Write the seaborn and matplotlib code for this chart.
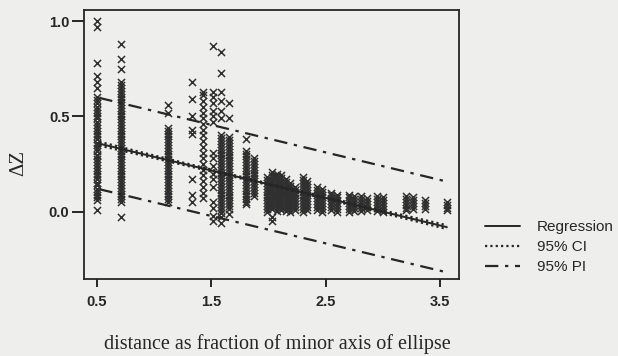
import matplotlib
matplotlib.use("Agg")
import matplotlib.pyplot as plt
import seaborn as sns
import pandas as pd
from matplotlib.lines import Line2D

# ---- observed change in Z, grouped by distance (fraction of minor axis) ----
x_050, y_050 = 0.50, [1.00, 0.97, 0.78, 0.71, 0.68, 0.65, 0.60, 0.585, 0.57, 0.55, 0.535, 0.52,
                      0.50, 0.49, 0.47, 0.455, 0.44, 0.425, 0.41, 0.395, 0.38, 0.36, 0.35, 0.335,
                      0.32, 0.30, 0.29, 0.275, 0.26, 0.245, 0.23, 0.215, 0.20, 0.185, 0.17, 0.15,
                      0.14, 0.12, 0.105, 0.09, 0.075, 0.06, 0.01]
x_071, y_071 = 0.71, [0.88, 0.80, 0.75, 0.68, 0.665, 0.65, 0.635, 0.62, 0.60, 0.59, 0.575, 0.56,
                      0.545, 0.53, 0.515, 0.50, 0.485, 0.47, 0.455, 0.44, 0.425, 0.41, 0.395,
                      0.38, 0.365, 0.35, 0.335, 0.32, 0.305, 0.29, 0.275, 0.26, 0.245, 0.23,
                      0.215, 0.20, 0.185, 0.17, 0.155, 0.14, 0.125, 0.11, 0.095, 0.08, 0.065,
                      0.05, -0.03]
x_112, y_112 = 1.12, [0.56, 0.52, 0.44, 0.425, 0.41, 0.395, 0.38, 0.365, 0.35, 0.335, 0.32, 0.305,
                      0.29, 0.275, 0.26, 0.245, 0.23, 0.215, 0.20, 0.185, 0.17, 0.155, 0.14,
                      0.125, 0.11, 0.095, 0.08, 0.065, 0.05]
x_133, y_133 = 1.33, [0.68, 0.59, 0.50, 0.43, 0.41, 0.17, 0.09, 0.05]
x_143, y_143 = 1.43, [0.63, 0.61, 0.58, 0.55, 0.52, 0.49, 0.46, 0.43, 0.40, 0.37, 0.34, 0.31,
                      0.28, 0.25, 0.22, 0.19, 0.16, 0.13, 0.10, 0.07]
x_151, y_151 = 1.51, [0.87, 0.63, 0.60, 0.57, 0.53, 0.50, 0.47, 0.31, 0.28, 0.24, 0.20, 0.17,
                      0.13, 0.05, 0.02, -0.02, -0.05]
x_158, y_158 = 1.58, [0.84, 0.73, 0.63, 0.58, 0.53, 0.49, 0.40, 0.385, 0.37, 0.355, 0.34, 0.325,
                      0.31, 0.295, 0.28, 0.265, 0.25, 0.235, 0.22, 0.205, 0.19, 0.175, 0.16,
                      0.145, 0.13, 0.115, 0.10, 0.085, 0.07, 0.055, 0.04, 0.025, 0.01, -0.005,
                      -0.03, -0.06]
x_165, y_165 = 1.65, [0.57, 0.49, 0.39, 0.375, 0.36, 0.345, 0.33, 0.315, 0.30, 0.285, 0.27, 0.255,
                      0.24, 0.225, 0.21, 0.195, 0.18, 0.165, 0.15, 0.135, 0.12, 0.105, 0.09,
                      0.075, 0.06, 0.045, 0.03, 0.015, -0.01]
x_180, y_180 = 1.80, [0.38, 0.32, 0.305, 0.29, 0.275, 0.26, 0.245, 0.23, 0.215, 0.20, 0.185, 0.17,
                      0.155, 0.14, 0.125, 0.11, 0.095, 0.08, 0.065, 0.05, 0.04]
x_187, y_187 = 1.87, [0.28, 0.265, 0.25, 0.235, 0.22, 0.205, 0.19, 0.175, 0.16, 0.145, 0.13,
                      0.115, 0.10, 0.08]
x_199, y_199 = 1.99, [0.18, 0.165, 0.15, 0.135, 0.12, 0.105, 0.09, 0.075, 0.06, 0.045, 0.03,
                      0.015, 0.0]
x_203, y_203 = 2.03, [0.21, 0.195, 0.18, 0.165, 0.15, 0.135, 0.12, 0.105, 0.09, 0.075, 0.06,
                      0.045, 0.03, 0.015, -0.03, -0.05]
x_207, y_207 = 2.07, [0.20, 0.185, 0.17, 0.155, 0.14, 0.125, 0.11, 0.095, 0.08, 0.065, 0.05,
                      0.035, 0.02, 0.005]
x_211, y_211 = 2.11, [0.19, 0.175, 0.16, 0.145, 0.13, 0.115, 0.10, 0.085, 0.07, 0.055, 0.04,
                      0.025, 0.01]
x_215, y_215 = 2.15, [0.17, 0.155, 0.14, 0.125, 0.11, 0.095, 0.08, 0.065, 0.05, 0.035, 0.02, 0.005]
x_219, y_219 = 2.19, [0.15, 0.135, 0.12, 0.105, 0.09, 0.075, 0.06, 0.045, 0.03, 0.015, 0.0]
x_223, y_223 = 2.23, [0.13, 0.115, 0.10, 0.085, 0.07, 0.055, 0.04, 0.025, 0.01]
x_230, y_230 = 2.30, [0.18, 0.165, 0.15, 0.135, 0.12, 0.105, 0.09, 0.075, 0.06, 0.045, 0.03,
                      0.015, 0.0]
x_234, y_234 = 2.34, [0.16, 0.145, 0.13, 0.115, 0.10, 0.085, 0.07, 0.055, 0.04, 0.025, 0.01]
x_242, y_242 = 2.42, [0.13, 0.115, 0.10, 0.085, 0.07, 0.055, 0.04, 0.025, 0.01]
x_247, y_247 = 2.47, [0.12, 0.105, 0.09, 0.075, 0.06, 0.045, 0.03, 0.015, 0.0]
x_255, y_255 = 2.55, [0.10, 0.085, 0.07, 0.055, 0.04, 0.025, 0.01]
x_260, y_260 = 2.60, [0.09, 0.075, 0.06, 0.045, 0.03, 0.015, 0.0]
x_270, y_270 = 2.70, [0.09, 0.075, 0.06, 0.045, 0.03, 0.015, 0.0]
x_275, y_275 = 2.75, [0.08, 0.065, 0.05, 0.035, 0.02, 0.005]
x_281, y_281 = 2.81, [0.08, 0.065, 0.05, 0.035, 0.02, 0.005]
x_286, y_286 = 2.86, [0.07, 0.055, 0.04, 0.025, 0.01]
x_295, y_295 = 2.95, [0.08, 0.065, 0.05, 0.035, 0.02, 0.005]
x_300, y_300 = 3.00, [0.075, 0.06, 0.045, 0.03, 0.015, 0.0]
x_320, y_320 = 3.20, [0.08, 0.065, 0.05, 0.035, 0.02, 0.01]
x_326, y_326 = 3.26, [0.075, 0.06, 0.045, 0.03, 0.015]
x_337, y_337 = 3.37, [0.06, 0.045, 0.03, 0.015]
x_356, y_356 = 3.56, [0.05, 0.035, 0.02, 0.01]

groups = [
    (x_050, y_050), (x_071, y_071), (x_112, y_112), (x_133, y_133), (x_143, y_143),
    (x_151, y_151), (x_158, y_158), (x_165, y_165), (x_180, y_180), (x_187, y_187),
    (x_199, y_199), (x_203, y_203), (x_207, y_207), (x_211, y_211), (x_215, y_215),
    (x_219, y_219), (x_223, y_223), (x_230, y_230), (x_234, y_234), (x_242, y_242),
    (x_247, y_247), (x_255, y_255), (x_260, y_260), (x_270, y_270), (x_275, y_275),
    (x_281, y_281), (x_286, y_286), (x_295, y_295), (x_300, y_300), (x_320, y_320),
    (x_326, y_326), (x_337, y_337), (x_356, y_356),
]

# ---- fitted regression with 95% confidence and prediction bands ----
fit_x = [0.52, 1.0, 1.5, 2.0, 2.5, 3.0, 3.56]
fit_y = [0.357, 0.288, 0.216, 0.144, 0.072, 0.000, -0.081]
ci_upper = [0.367, 0.295, 0.221, 0.148, 0.077, 0.007, -0.071]
ci_lower = [0.347, 0.281, 0.211, 0.140, 0.067, -0.007, -0.091]
pi_x = [0.52, 3.56]
pi_upper = [0.597, 0.158]
pi_lower = [0.118, -0.318]

legend_labels = ["Regression", "95% CI", "95% PI"]
x_ticks = [0.5, 1.5, 2.5, 3.5]
y_ticks = [0.0, 0.5, 1.0]

points = pd.DataFrame(
    [(gx, gy) for gx, ys in groups for gy in ys], columns=["distance", "dz"]
)

sns.set_theme(style="ticks")
paper = "#eeeeec"
ink = "#262626"
plt.rcParams["font.family"] = ["Liberation Sans", "DejaVu Sans"]

fig = plt.figure(figsize=(6.18, 3.56), dpi=100, facecolor=paper)
ax = fig.add_axes([84 / 618, 1 - 279 / 356, 375 / 618, 269 / 356])
ax.set_facecolor(paper)

sns.scatterplot(data=points, x="distance", y="dz", marker="x", s=26,
                color="#303030", linewidth=1.1, ax=ax, legend=False, zorder=2)

dot_style = (0, (1, 1.4))
pi_style = (0, (6, 3, 1.5, 3))
line_kw = dict(ax=ax, color=ink, legend=False, estimator=None, sort=False)
sns.lineplot(x=fit_x, y=fit_y, linewidth=1.4, **line_kw)
sns.lineplot(x=fit_x, y=ci_upper, linewidth=1.6, linestyle=dot_style, **line_kw)
sns.lineplot(x=fit_x, y=ci_lower, linewidth=1.6, linestyle=dot_style, **line_kw)
sns.lineplot(x=pi_x, y=pi_upper, linewidth=1.6, linestyle=pi_style, **line_kw)
sns.lineplot(x=pi_x, y=pi_lower, linewidth=1.6, linestyle=pi_style, **line_kw)

ax.set_xlim(0.386, 3.666)
ax.set_ylim(-0.353, 1.058)
ax.set_xticks(x_ticks)
ax.set_yticks(y_ticks)
ax.set_xticklabels([f"{v:.1f}" for v in x_ticks], fontsize=10.5, fontweight="bold", color=ink)
ax.set_yticklabels([f"{v:.1f}" for v in y_ticks], fontsize=10.5, fontweight="bold", color=ink)
ax.tick_params(axis="y", direction="out", length=9, width=1.4, pad=1.5, color=ink)
ax.tick_params(axis="x", direction="out", length=5.5, width=1.4, pad=6, color=ink)
for side in ["left", "right", "top", "bottom"]:
    ax.spines[side].set_visible(True)
    ax.spines[side].set_color(ink)
    ax.spines[side].set_linewidth(1.3)

serif = ["Liberation Serif", "DejaVu Serif"]
ax.set_xlabel("distance as fraction of minor axis of ellipse",
              family=serif, fontsize=14.5, color=ink)
ax.xaxis.set_label_coords(0.515, -0.205)
ax.set_ylabel("ΔZ", family=serif, fontsize=15, color=ink)
ax.yaxis.set_label_coords(-0.15, 0.43)

handles = [
    Line2D([], [], color=ink, linewidth=1.4),
    Line2D([], [], color=ink, linewidth=1.6, linestyle=dot_style),
    Line2D([], [], color=ink, linewidth=1.6, linestyle=pi_style),
]
ax.legend(handles, legend_labels, loc="center left", frameon=False,
          bbox_to_anchor=(485 / 618, 1 - 247 / 356), bbox_transform=fig.transFigure,
          borderaxespad=0, borderpad=0, handlelength=2.3, handletextpad=1.1,
          labelspacing=0.4, prop={"size": 11}, labelcolor=ink)

fig.savefig("out.png", dpi=100, facecolor=paper)
